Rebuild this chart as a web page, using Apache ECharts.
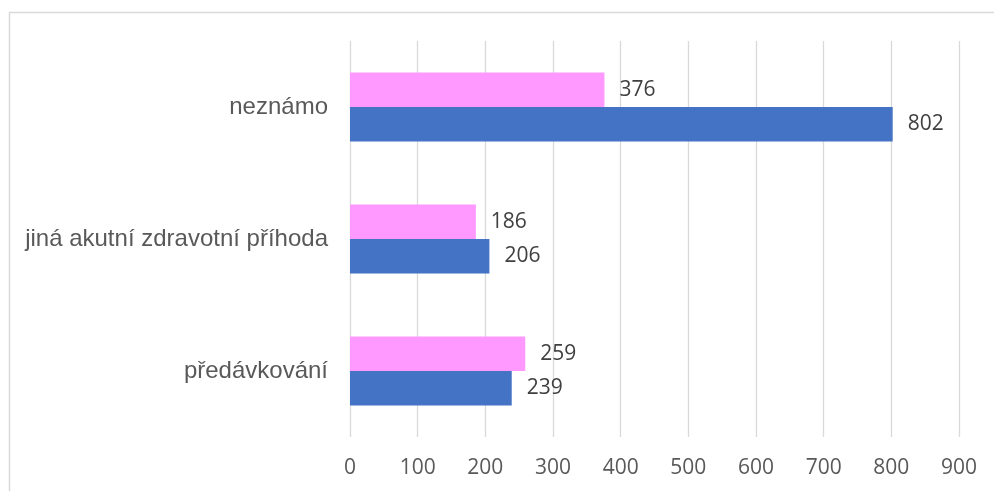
<!DOCTYPE html>
<html>
<head>
<meta charset="utf-8">
<script src="https://cdn.jsdelivr.net/npm/echarts@6/dist/echarts.min.js"></script>
<style>html,body{margin:0;padding:0;background:#fff}#c{width:994px;height:491px}</style>
</head>
<body>
<div id="c"></div>
<script>
var categories = ['předávkování', 'jiná akutní zdravotní příhoda', 'neznámo'];
var pinkValues = [259, 186, 376];
var blueValues = [239, 206, 802];
var xTicks = { min: 0, max: 900, interval: 100 };

var chart = echarts.init(document.getElementById('c'));
var labelStyle = { show: true, position: 'right', distance: 15, fontFamily: 'Open Sans', fontSize: 21, color: '#404040' };
chart.setOption({
  animation: false,
  graphic: [{ type: 'rect', shape: { x: 9.5, y: 12.5, width: 1000, height: 500 }, style: { fill: 'none', stroke: '#d9d9d9', lineWidth: 1.5 }, silent: true }],
  grid: { left: 350, right: 35, top: 41, bottom: 54 },
  xAxis: {
    type: 'value', min: xTicks.min, max: xTicks.max, interval: xTicks.interval,
    axisLine: { show: false }, axisTick: { show: false },
    splitLine: { show: true, lineStyle: { color: '#d9d9d9', width: 1.3 } },
    axisLabel: { margin: 21, fontFamily: 'Open Sans', fontSize: 21, color: '#595959' }
  },
  yAxis: {
    type: 'category', data: categories,
    axisLine: { show: false }, axisTick: { show: false },
    axisLabel: { margin: 22, fontFamily: '"Liberation Sans", Arial, sans-serif', fontSize: 24, color: '#595959' }
  },
  series: [
    { type: 'bar', data: pinkValues, itemStyle: { color: '#FF99FF' }, barGap: '0%', barCategoryGap: '47.7%', label: labelStyle },
    { type: 'bar', data: blueValues, itemStyle: { color: '#4472C4' }, barGap: '0%', barCategoryGap: '47.7%', label: labelStyle }
  ]
});
</script>
</body>
</html>
